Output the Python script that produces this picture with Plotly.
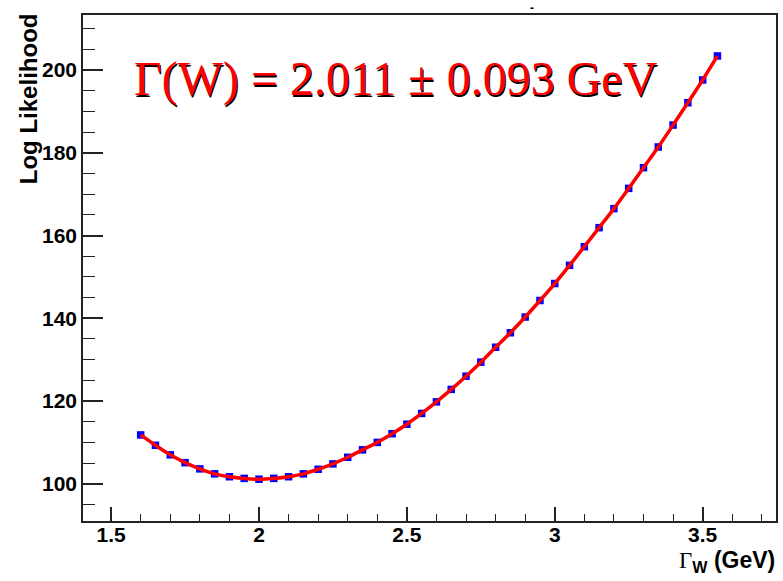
import plotly.graph_objects as go

# data
gamma_w = [1.60, 1.65, 1.70, 1.75, 1.80, 1.85, 1.90, 1.95, 2.00, 2.05,
           2.10, 2.15, 2.20, 2.25, 2.30, 2.35, 2.40, 2.45, 2.50, 2.55,
           2.60, 2.65, 2.70, 2.75, 2.80, 2.85, 2.90, 2.95, 3.00, 3.05,
           3.10, 3.15, 3.20, 3.25, 3.30, 3.35, 3.40, 3.45, 3.50, 3.55]
log_likelihood = [111.8, 109.3, 107.0, 105.1, 103.6, 102.4, 101.7, 101.3, 101.1, 101.3,
                  101.7, 102.4, 103.5, 104.8, 106.4, 108.2, 110.0, 112.1, 114.4, 117.0,
                  119.8, 122.8, 126.0, 129.4, 133.0, 136.5, 140.3, 144.3, 148.4, 152.8,
                  157.3, 161.9, 166.5, 171.4, 176.4, 181.4, 186.7, 192.1, 197.6, 203.4]
result_text = "Γ(W) = 2.011 ± 0.093 GeV"
y_title = "Log Likelihood"
x_title = '<span style="font-family:Liberation Serif;font-weight:normal">Γ</span><sub>W</sub> (GeV)'

W, H = 783, 581
L, R, T, B = 83, 5, 15, 60
PW, PH = W - L - R, H - T - B


def px(x):
    return (x - L) / PW


def py(y):
    return (H - B - y) / PH


fig = go.Figure()
fig.add_trace(go.Scatter(x=gamma_w, y=log_likelihood, mode="markers",
                         marker=dict(symbol="square", size=7.5, color="#0000ff",
                                     line=dict(width=0)),
                         showlegend=False))
fig.add_trace(go.Scatter(x=gamma_w, y=log_likelihood, mode="lines",
                         line=dict(color="#ff0000", width=3.5, shape="spline"),
                         showlegend=False))

axis_common = dict(showline=True, linecolor="#222222", linewidth=1.5, mirror=True,
                   ticks="inside", tickcolor="#222222", tickwidth=1.5,
                   showgrid=False, zeroline=False,
                   tickfont=dict(family="Liberation Sans", size=21, color="black", weight="bold"))

fig.update_xaxes(range=[1.405, 3.748], dtick=0.5, tick0=1.5, ticklen=14,
                 ticklabelstandoff=-6,
                 minor=dict(dtick=0.1, tick0=1.5, ticks="inside", ticklen=7,
                            tickcolor="#222222", tickwidth=1.2),
                 **axis_common)
fig.update_yaxes(range=[91, 213.3], dtick=20, tick0=100, ticklen=20,
                 minor=dict(dtick=5, tick0=100, ticks="inside", ticklen=12,
                            tickcolor="#222222", tickwidth=1.2),
                 **axis_common)

annots = [
    dict(text=result_text, x=px(132), y=py(79), xref="paper", yref="paper",
         xanchor="left", yanchor="middle", showarrow=False, xshift=1.5, yshift=-1.5,
         font=dict(family="Liberation Serif", size=48, color="black")),
    dict(text=result_text, x=px(132), y=py(79), xref="paper", yref="paper",
         xanchor="left", yanchor="middle", showarrow=False,
         font=dict(family="Liberation Serif", size=48, color="#ff0000")),
    dict(text=y_title, x=px(13), y=py(11), xref="paper", yref="paper",
         xanchor="left", yanchor="top", textangle=-90, showarrow=False,
         font=dict(family="Liberation Sans", size=24, color="black", weight="bold")),
    dict(text=x_title, x=px(779), y=py(561), xref="paper", yref="paper",
         xanchor="right", yanchor="middle", showarrow=False,
         font=dict(family="Liberation Sans", size=23, color="black", weight="bold")),
    dict(text="-", x=px(533), y=py(8), xref="paper", yref="paper",
         xanchor="center", yanchor="middle", showarrow=False,
         font=dict(family="Liberation Sans", size=12, color="black", weight="bold")),
]

fig.update_layout(width=W, height=H, margin=dict(l=L, r=R, t=T, b=B),
                  paper_bgcolor="white", plot_bgcolor="white",
                  annotations=annots)

fig.write_html("out.html")
